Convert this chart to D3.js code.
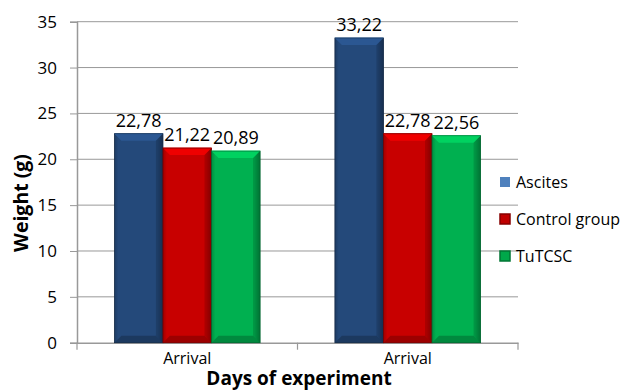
<!DOCTYPE html>
<html><head><meta charset="utf-8">
<script src="https://cdn.jsdelivr.net/npm/d3@7"></script>
<style>body{margin:0;background:#fff}svg{display:block}text{font-family:"Open Sans","Noto Sans",sans-serif;fill:#000}</style>
</head><body><svg id="c" width="635" height="392"></svg>
<script>
const categories = ["Arrival", "Arrival2"];
const categoryLabels = ["Arrival", "Arrival"];
const seriesNames = ["Ascites", "Control group", "TuTCSC"];
const ascites = [22.78, 33.22];
const control = [21.22, 22.78];
const tutcsc = [20.89, 22.56];
const yTicks = [0, 5, 10, 15, 20, 25, 30, 35];
const colors = ["#24497A", "#C80000", "#00B050"];
const legendColors = ["#4F81BD", "#C00000", "#00A84A"];

const series = [ascites, control, tutcsc];
const svg = d3.select("#c");
const m = {l: 77, r: 518, t: 21.7, b: 342.7};
const x = d3.scaleBand().domain(categories).range([m.l, m.r]).paddingInner(0).paddingOuter(0);
const xs = d3.scaleBand().domain(seriesNames).range([0, x.bandwidth()]).paddingInner(0).paddingOuter(0.77);
const y = d3.scaleLinear().domain([0, 35]).range([m.b, m.t]);

const defs = svg.append("defs");
colors.forEach((c, i) => {
  const g = defs.append("linearGradient").attr("id", "g" + i).attr("x1", 0).attr("x2", 1).attr("y1", 0).attr("y2", 0);
  const cc = d3.color(c);
  g.append("stop").attr("offset", 0).attr("stop-color", cc.darker(0.6));
  g.append("stop").attr("offset", 0.08).attr("stop-color", c);
  g.append("stop").attr("offset", 0.88).attr("stop-color", c);
  g.append("stop").attr("offset", 1).attr("stop-color", cc.darker(1.6));
});

// gridlines
svg.append("g").selectAll("line").data(yTicks.filter(d => d > 0)).join("line")
  .attr("x1", m.l).attr("x2", m.r).attr("y1", d => y(d)).attr("y2", d => y(d))
  .attr("stroke", "#999").attr("stroke-width", 1);

// axes
const ya = svg.append("g").attr("transform", `translate(${m.l},0)`)
  .call(d3.axisLeft(y).tickValues(yTicks).tickSize(7).tickPadding(13));
ya.select(".domain").attr("stroke", "#999").attr("stroke-width", 1.5);
ya.selectAll(".tick line").attr("stroke", "#999");
ya.selectAll(".tick text").attr("font-size", 17).style("font-family", '"Open Sans","Noto Sans",sans-serif').attr("fill", "#222");

const xa = svg.append("g").attr("transform", `translate(0,${m.b})`)
  .call(d3.axisBottom(x).tickSize(0).tickFormat((d, i) => categoryLabels[i]).tickPadding(10));
xa.select(".domain").attr("stroke", "#999").attr("stroke-width", 1.5);
xa.selectAll(".tick text").attr("font-size", 16).style("font-family", '"Open Sans","Noto Sans",sans-serif').attr("fill", "#111");
// category boundary ticks
const bounds = [m.l, x(categories[1]), m.r];
svg.append("g").selectAll("line").data(bounds).join("line")
  .attr("x1", d => d).attr("x2", d => d).attr("y1", m.b).attr("y2", m.b + 7)
  .attr("stroke", "#999").attr("stroke-width", 1.2);

// bars
const bev = 7;
const bars = svg.append("g");
categories.forEach((cat, ci) => {
  seriesNames.forEach((s, si) => {
    const v = series[si][ci];
    const bx = x(cat) + xs(s), bw = xs.bandwidth();
    const by = y(v), bh = y(0) - y(v);
    const c = d3.color(colors[si]);
    const g = bars.append("g");
    g.append("rect").attr("x", bx).attr("y", by).attr("width", bw).attr("height", bh).attr("fill", `url(#g${si})`);
    g.append("path").attr("d", `M${bx},${by}L${bx+bw},${by}L${bx+bw-bev},${by+bev}L${bx+bev},${by+bev}Z`)
      .attr("fill", c.brighter(0.5));
    g.append("path").attr("d", `M${bx},${by}L${bx+bw},${by}`).attr("stroke", c.brighter(1.2)).attr("stroke-width", 1);
    g.append("path").attr("d", `M${bx},${by+bh}L${bx+bw},${by+bh}L${bx+bw-bev},${by+bh-bev}L${bx+bev},${by+bh-bev}Z`)
      .attr("fill", c.darker(0.7));
    g.append("path").attr("d", `M${bx+bw},${by}L${bx+bw},${by+bh}L${bx+bw-bev},${by+bh-bev}L${bx+bw-bev},${by+bev}Z`)
      .attr("fill", c.darker(0.9)).attr("opacity", 0.55);
    g.append("rect").attr("x", bx).attr("y", by).attr("width", bw).attr("height", bh)
      .attr("fill", "none").attr("stroke", c.darker(1.5)).attr("stroke-width", 0.8);
    svg.append("text").attr("x", bx + bw / 2).attr("y", by - 7).attr("text-anchor", "middle")
      .attr("font-size", 18).attr("fill", "#111").text(d3.format(".2f")(v).replace(".", ","));
  });
});

// axis titles
svg.append("text").attr("transform", `translate(28,203) rotate(-90)`)
  .attr("text-anchor", "middle").attr("font-size", 19.5).attr("font-weight", "bold").text("Weight (g)");
svg.append("text").attr("x", 299).attr("y", 385).attr("text-anchor", "middle")
  .attr("font-size", 19).attr("font-weight", "bold").text("Days of experiment");

// legend
const lg = svg.append("g");
seriesNames.forEach((s, i) => {
  const ly = 182 + i * 37;
  const c = d3.color(legendColors[i]);
  lg.append("rect").attr("x", 500).attr("y", ly - 5).attr("width", 10).attr("height", 10)
    .attr("fill", legendColors[i]).attr("stroke", i ? c.darker(1) : "none").attr("stroke-width", i ? 1.5 : 0);
  lg.append("text").attr("x", 516).attr("y", ly).attr("dy", "0.35em").attr("font-size", 16).attr("fill", "#111").text(s);
});
</script></body></html>
